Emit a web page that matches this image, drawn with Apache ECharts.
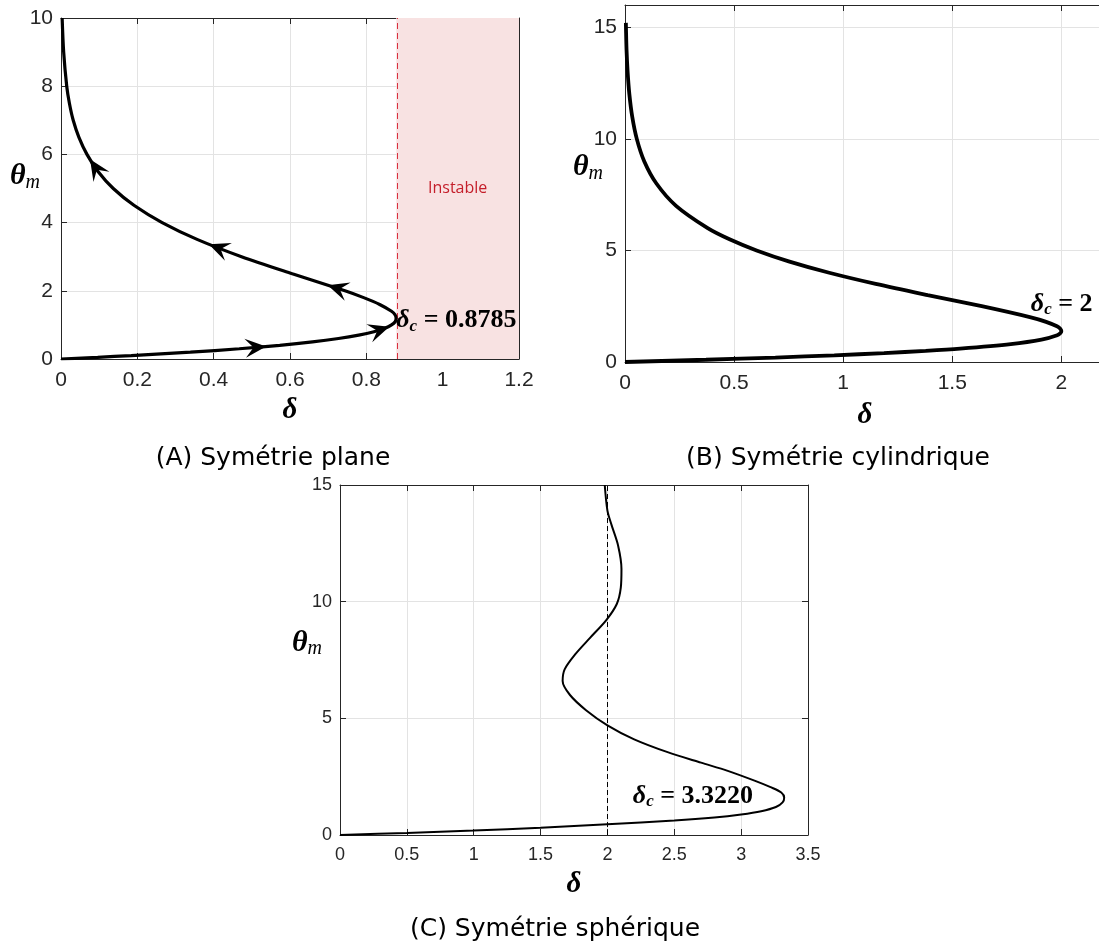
<!DOCTYPE html>
<html><head><meta charset="utf-8">
<script src="https://cdn.jsdelivr.net/npm/echarts@6/dist/echarts.min.js"></script>
<style>html,body{margin:0;padding:0;background:#fff}#c{width:1099px;height:943px}</style>
</head><body><div id="c"></div>
<script>
// ---------- Panel A : Symétrie plane ----------
const thetaA = [0, 0.05, 0.1, 0.2, 0.3, 0.4, 0.5, 0.6, 0.7, 0.8, 0.9, 1.0, 1.1, 1.2, 1.3, 1.4, 1.6, 1.8, 2.0, 2.5, 3.0, 3.5, 4.0, 4.5, 5.0, 5.5, 6.0, 6.5, 7.0, 7.5, 8.0, 9.0, 10.0];
const deltaA = [0, 0.096, 0.184, 0.339, 0.467, 0.573, 0.659, 0.727, 0.780, 0.820, 0.848, 0.866, 0.876, 0.878, 0.875, 0.866, 0.835, 0.793, 0.744, 0.606, 0.473, 0.358, 0.265, 0.192, 0.137, 0.097, 0.068, 0.047, 0.032, 0.022, 0.015, 0.007, 0.003];
const arrowDeltaA = [0.51, 0.834, 0.725, 0.413, 0.091];
const arrowThetaA = [0.34, 0.85, 2.07, 3.25, 5.6];
const deltaCritA = 0.8785;
const labelCritA = '0.8785';
const labelPosA = [0.8785, 1.14];
const unstableText = 'Instable';
// ---------- Panel B : Symétrie cylindrique ----------
const thetaB = [0, 0.1, 0.2, 0.3, 0.4, 0.5, 0.6, 0.8, 1.0, 1.2, 1.3, 1.39, 1.5, 1.6, 1.8, 2.0, 2.5, 3.0, 3.5, 4.0, 4.5, 5.0, 5.5, 6.0, 7.0, 8.0, 9.0, 10, 11, 12, 13, 14, 15, 15.2];
const deltaB = [0, 0.371, 0.689, 0.959, 1.187, 1.378, 1.536, 1.768, 1.909, 1.981, 1.996, 2.0, 1.994, 1.980, 1.930, 1.860, 1.635, 1.387, 1.149, 0.936, 0.754, 0.603, 0.479, 0.379, 0.234, 0.144, 0.088, 0.054, 0.033, 0.020, 0.012, 0.007, 0.0044, 0.004];
const labelCritB = '2';
const labelPosB = [1.86, 2.6];
// ---------- Panel C : Symétrie sphérique ----------
const deltaC = [0, 0.5, 1.0, 1.5, 2.0, 2.5, 2.8, 3.0, 3.15, 3.26, 3.31, 3.322, 3.30, 3.22, 3.10, 2.90, 2.70, 2.45, 2.20, 2.00, 1.84, 1.72, 1.665, 1.68, 1.76, 1.87, 1.99, 2.07, 2.10, 2.105, 2.08, 2.03, 2.00, 1.98];
const thetaC = [0, 0.09, 0.19, 0.31, 0.46, 0.62, 0.75, 0.88, 1.02, 1.2, 1.4, 1.6, 1.82, 2.05, 2.33, 2.75, 3.1, 3.55, 4.1, 4.7, 5.35, 6.0, 6.6, 7.1, 7.75, 8.45, 9.2, 9.9, 10.6, 11.4, 12.4, 13.3, 13.9, 15.0];
const deltaRefC = 2;
const labelCritC = '3.3220';
const labelPosC = [2.19, 1.67];
// ---------- Captions ----------
const captions = ['(A) Symétrie plane', '(B) Symétrie cylindrique', '(C) Symétrie sphérique'];

const AX = '#262626', GRIDC = '#e3e3e3';
const SERIF = 'Liberation Serif';
const zip = (xs, ys) => xs.map((x, i) => [x, ys[i]]);

function xAxes(gi, min, max, interval, fs, gap, showMax) {
  return [{
    type: 'value', gridIndex: gi, position: 'bottom', min, max, interval,
    axisLine: {show: true, onZero: false, lineStyle: {color: AX, width: 1}},
    axisTick: {show: true, inside: true, length: 6, lineStyle: {color: AX}},
    axisLabel: {color: AX, fontSize: fs, fontFamily: 'Liberation Sans', margin: 11, showMaxLabel: showMax},
    splitLine: {show: true, lineStyle: {color: GRIDC, width: 1}},
    name: 'δ', nameLocation: 'middle', nameGap: gap, nameMoveOverlap: false,
    nameTextStyle: {fontFamily: SERIF, fontStyle: 'italic', fontWeight: 'bold', fontSize: 29, color: '#000'}
  }, {
    type: 'value', gridIndex: gi, position: 'top', min, max, interval,
    axisLine: {show: true, onZero: false, lineStyle: {color: AX, width: 1}},
    axisTick: {show: true, inside: true, length: 6, lineStyle: {color: AX}},
    axisLabel: {show: false}, splitLine: {show: false}
  }];
}
function yAxes(gi, min, max, interval, fs, gap, shift, showMax, rightTicks) {
  return [{
    type: 'value', gridIndex: gi, position: 'left', min, max, interval,
    axisLine: {show: true, onZero: false, lineStyle: {color: AX, width: 1}},
    axisTick: {show: true, inside: true, length: 6, lineStyle: {color: AX}},
    axisLabel: {color: AX, fontSize: fs, fontFamily: 'Liberation Sans', margin: 8, showMaxLabel: showMax},
    splitLine: {show: true, lineStyle: {color: GRIDC, width: 1}},
    name: '{t|θ}{m|m}', nameLocation: 'middle', nameGap: gap, nameRotate: 0, nameMoveOverlap: false,
    nameTextStyle: {padding: [0, 0, 2 * shift, 0], rich: {
      t: {fontFamily: SERIF, fontStyle: 'italic', fontSize: 30, color: '#000', fontWeight: 'bold'},
      m: {fontFamily: SERIF, fontStyle: 'italic', fontSize: 20, color: '#000', padding: [12, 0, 0, 0]}
    }}
  }, {
    type: 'value', gridIndex: gi, position: 'right', min, max, interval,
    axisLine: {show: true, onZero: false, lineStyle: {color: AX, width: 1}},
    axisTick: {show: rightTicks, inside: true, length: 6, lineStyle: {color: AX}},
    axisLabel: {show: false}, splitLine: {show: false}
  }];
}
function critLabel(id, xi, yi, pos, txt) {
  return {
    id, type: 'scatter', xAxisIndex: xi, yAxisIndex: yi, symbolSize: 0, silent: true, z: 10,
    itemStyle: {opacity: 1},
    data: [pos],
    label: {show: true, position: 'right', distance: 0, formatter: '{d|δ}{s|c}{n| = ' + txt + '}',
      rich: {
        d: {fontFamily: SERIF, fontStyle: 'italic', fontWeight: 'bold', fontSize: 26, color: '#000'},
        s: {fontFamily: SERIF, fontStyle: 'italic', fontWeight: 'bold', fontSize: 17, color: '#000', padding: [12, 0, 0, 0]},
        n: {fontFamily: SERIF, fontWeight: 'bold', fontSize: 26, color: '#000'}
      }}
  };
}

const chart = echarts.init(document.getElementById('c'), null, {renderer: 'canvas'});
const capStyle = {align: 'center', verticalAlign: 'middle', fontSize: 25, fontFamily: 'DejaVu Sans', fill: '#000'};
const option = {
  animation: false,
  backgroundColor: '#fff',
  grid: [
    {left: 61, top: 18, width: 458, height: 341, outerBoundsMode: 'none', containLabel: false},
    {left: 625, top: 5, width: 480, height: 357, outerBoundsMode: 'none', containLabel: false},
    {left: 340, top: 485, width: 468, height: 350, outerBoundsMode: 'none', containLabel: false}
  ],
  xAxis: [...xAxes(0, 0, 1.2, 0.2, 21, 37, true), ...xAxes(1, 0, 2.2, 0.5, 21, 39, false), ...xAxes(2, 0, 3.5, 0.5, 18, 35, true)],
  yAxis: [...yAxes(0, 0, 10, 2, 21, 21, 12, true, true), ...yAxes(1, 0, 16, 5, 21, 22, 16, false, false), ...yAxes(2, 0, 15, 5, 18, 18, 17, true, true)],
  series: [
    {
      id: 'curveA', type: 'line', xAxisIndex: 0, yAxisIndex: 0, data: zip(deltaA, thetaA),
      showSymbol: false, smooth: 0.3, lineStyle: {color: '#000', width: 3.2}, z: 5,
      markArea: {silent: true, itemStyle: {color: '#f8e2e2'},
        label: {show: true, position: 'inside', color: '#c41e2a', fontSize: 16, fontFamily: 'Open Sans'},
        data: [[{name: unstableText, xAxis: deltaCritA}, {xAxis: 1.2}]]},
      markLine: {silent: true, symbol: 'none', label: {show: false},
        lineStyle: {color: '#d9303f', width: 1, type: [6, 4]},
        data: [{xAxis: deltaCritA}]}
    },
    {
      id: 'arrowsA', type: 'scatter', xAxisIndex: 0, yAxisIndex: 0, z: 6,
      symbol: 'path://M0,0 L10,20 L0,12 L-10,20 Z', symbolSize: [19, 21],
      itemStyle: {color: '#000', opacity: 1}, data: zip(arrowDeltaA, arrowThetaA)
    },
    critLabel('labA', 0, 0, labelPosA, labelCritA),
    {
      id: 'curveB', type: 'line', xAxisIndex: 2, yAxisIndex: 2, data: zip(deltaB, thetaB),
      showSymbol: false, smooth: 0.3, lineStyle: {color: '#000', width: 3.8}, z: 5
    },
    critLabel('labB', 2, 2, labelPosB, labelCritB),
    {
      id: 'curveC', type: 'line', xAxisIndex: 4, yAxisIndex: 4, data: zip(deltaC, thetaC),
      showSymbol: false, smooth: 0.3, lineStyle: {color: '#000', width: 2}, z: 5,
      markLine: {silent: true, symbol: 'none', label: {show: false},
        lineStyle: {color: '#000', width: 1, type: [5, 3]},
        data: [{xAxis: deltaRefC}]}
    },
    critLabel('labC', 4, 4, labelPosC, labelCritC)
  ],
  graphic: [
    {type: 'text', style: Object.assign({text: captions[0], x: 273, y: 458}, capStyle)},
    {type: 'text', style: Object.assign({text: captions[1], x: 838, y: 458}, capStyle)},
    {type: 'text', style: Object.assign({text: captions[2], x: 555, y: 929}, capStyle)}
  ]
};
chart.setOption(option);

// orient the arrowheads along the curve (direction of increasing theta)
const arrowData = arrowDeltaA.map((d, i) => {
  const t = arrowThetaA[i];
  let k = 0;
  while (k < thetaA.length - 2 && thetaA[k + 1] < t) k++;
  const p1 = chart.convertToPixel({seriesIndex: 0}, [deltaA[k], thetaA[k]]);
  const p2 = chart.convertToPixel({seriesIndex: 0}, [deltaA[k + 1], thetaA[k + 1]]);
  const ang = Math.atan2(-(p2[1] - p1[1]), p2[0] - p1[0]) * 180 / Math.PI;
  return {value: [d, t], symbolRotate: ang - 90};
});
chart.setOption({series: [{id: 'arrowsA', data: arrowData}]});
</script></body></html>
